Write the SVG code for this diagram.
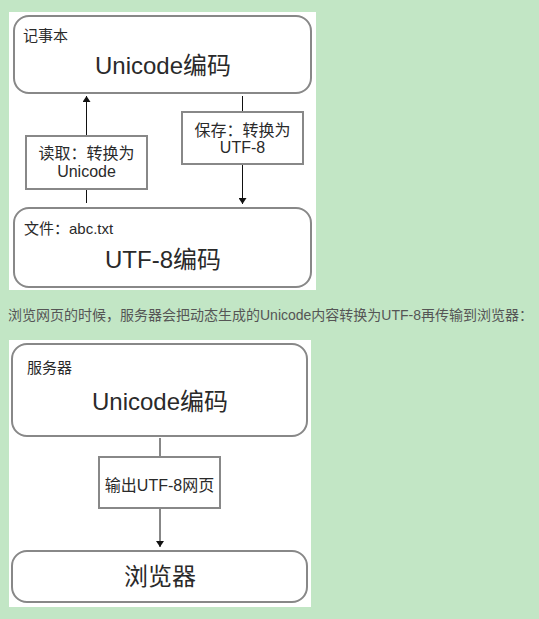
<svg xmlns="http://www.w3.org/2000/svg" width="539" height="619" viewBox="0 0 539 619">
<defs>
<style>
.t{font-family:"Liberation Sans","Noto Sans CJK SC",sans-serif;fill:#2a2a2a}
.c{font-size:15px}
.s{font-size:16px}
.b{font-size:24px}
.box{fill:#fff;stroke:#888;stroke-width:2}
.lbl{fill:#fff;stroke:#888;stroke-width:2}
.ln{stroke:#111;stroke-width:1;fill:none}
.p{font-family:"Liberation Sans","Noto Sans CJK SC",sans-serif;font-size:14px;fill:#555}
</style>
<marker id="ah" viewBox="0 0 6 8" refX="6" refY="4" markerWidth="6" markerHeight="8" markerUnits="userSpaceOnUse" orient="auto">
<path d="M0,0 L6,4 L0,8 Z" fill="#111"/>
</marker>
</defs>
<rect width="539" height="619" fill="#c2e6c5"/>
<rect x="9" y="12" width="307" height="278" fill="#fff"/>
<rect x="9" y="340" width="302" height="267" fill="#fff"/>
<g id="connectors">
<line class="ln" x1="86.5" y1="203" x2="86.5" y2="96" marker-end="url(#ah)"/>
<line class="ln" x1="242.5" y1="96" x2="242.5" y2="204" marker-end="url(#ah)"/>
<line class="ln" x1="160" y1="438" x2="160" y2="547" marker-end="url(#ah)"/>
</g>
<g id="notepad">
<rect class="box" x="14" y="16" width="297" height="77" rx="15"/>
<text class="t c" x="23" y="41">记事本</text>
<text class="t b" x="163" y="74" text-anchor="middle">Unicode编码</text>
</g>
<g id="read-label">
<rect class="lbl" x="26" y="136" width="121" height="53"/>
<text class="t s" x="86.5" y="159" text-anchor="middle">读取：转换为</text>
<text class="t s" x="86.5" y="177" text-anchor="middle">Unicode</text>
</g>
<g id="save-label">
<rect class="lbl" x="182" y="112" width="121" height="52"/>
<text class="t s" x="242.5" y="136" text-anchor="middle">保存：转换为</text>
<text class="t s" x="242.5" y="153" text-anchor="middle">UTF-8</text>
</g>
<g id="file">
<rect class="box" x="14" y="208" width="297" height="79" rx="15"/>
<text class="t c" x="24" y="234">文件：abc.txt</text>
<text class="t b" x="163" y="268" text-anchor="middle">UTF-8编码</text>
</g>
<text class="p" x="8" y="320">浏览网页的时候，服务器会把动态生成的Unicode内容转换为UTF-8再传输到浏览器：</text>
<g id="server">
<rect class="box" x="12" y="344" width="295" height="92" rx="15"/>
<text class="t c" x="27" y="373">服务器</text>
<text class="t b" x="160" y="410" text-anchor="middle">Unicode编码</text>
</g>
<g id="output-label">
<rect class="lbl" x="99" y="457" width="121" height="51"/>
<text class="t s" x="159.5" y="491" text-anchor="middle">输出UTF-8网页</text>
</g>
<g id="browser">
<rect class="box" x="12" y="551" width="295" height="51" rx="15"/>
<text class="t b" x="160" y="585" text-anchor="middle">浏览器</text>
</g>
</svg>
